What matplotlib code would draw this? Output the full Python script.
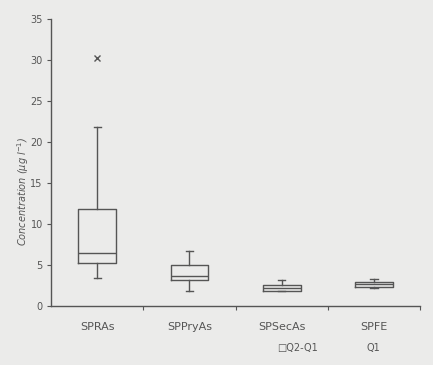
import matplotlib.pyplot as plt

categories = ['SPRAs', 'SPPryAs', 'SPSecAs', 'SPFE']
whislo = [3.4, 1.8, 1.8, 2.2]
q1 = [5.2, 3.1, 1.8, 2.3]
med = [6.5, 3.7, 2.2, 2.7]
q3 = [11.8, 5.0, 2.6, 2.9]
whishi = [21.8, 6.7, 3.1, 3.3]
outliers = [[30.2], [], [], []]

bg = '#ebebea'
ink = '#555555'

fig = plt.figure(figsize=(4.33, 3.65), dpi=100, facecolor=bg)
ax = fig.add_axes([0.118, 0.162, 0.852, 0.786], facecolor=bg)

stats = []
for i, name in enumerate(categories):
    stats.append({'label': name, 'whislo': whislo[i], 'q1': q1[i], 'med': med[i],
                  'q3': q3[i], 'whishi': whishi[i], 'fliers': outliers[i]})

ax.bxp(stats, positions=range(len(categories)), widths=0.41, showfliers=True,
       boxprops=dict(color=ink, linewidth=1.0),
       medianprops=dict(color=ink, linewidth=1.0),
       whiskerprops=dict(color=ink, linewidth=1.0),
       capprops=dict(color=ink, linewidth=1.0),
       capwidths=0.08,
       flierprops=dict(marker='x', markeredgecolor=ink, markersize=4))

ax.set_xlim(-0.5, 3.5)
ax.set_ylim(0, 35)
ax.set_yticks(range(0, 36, 5))
ax.set_xticks([0.5, 1.5, 2.5, 3.5], minor=False)
ax.set_xticklabels([])
for i, name in enumerate(categories):
    ax.text(i, -2.0, name, ha='center', va='top', fontsize=8, color=ink)

ax.tick_params(axis='y', colors=ink, labelsize=7, length=3, width=0.8, pad=3)
ax.tick_params(axis='x', colors=ink, length=3, width=0.8)
for side in ['top', 'right']:
    ax.spines[side].set_visible(False)
for side in ['left', 'bottom']:
    ax.spines[side].set_color(ink)
    ax.spines[side].set_linewidth(1.0)

ax.set_ylabel('Concentration (\u00b5g l$^{-1}$)', fontsize=7, color=ink,
              style='italic')
ax.yaxis.set_label_coords(-0.055, 0.40)

fig.text(0.64, 0.047, '\u25a1Q2-Q1', fontsize=7, color=ink, ha='left', va='center')
fig.text(0.862, 0.047, 'Q1', fontsize=7, color=ink, ha='center', va='center')

fig.savefig('out.png', dpi=100, facecolor=bg)
